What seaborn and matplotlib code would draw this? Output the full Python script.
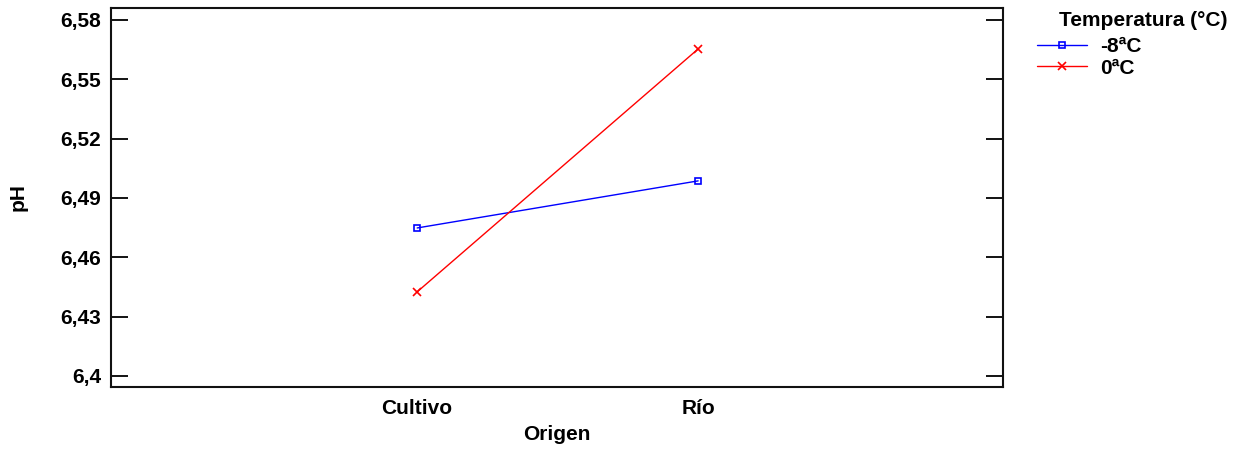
import matplotlib
matplotlib.use("Agg")
import matplotlib.pyplot as plt
from matplotlib.lines import Line2D
import pandas as pd
import seaborn as sns

# Mean pH by origin and storage temperature
origen = ["Cultivo", "Río"]
temperaturas = ["-8ªC", "0ªC"]
ph_menos8 = [6.4748, 6.4986]
ph_0 = [6.4425, 6.5653]

y_ticks = [6.40, 6.43, 6.46, 6.49, 6.52, 6.55, 6.58]
y_tick_labels = ["6,4", "6,43", "6,46", "6,49", "6,52", "6,55", "6,58"]

df = pd.DataFrame({
    "Origen": origen * 2,
    "Temperatura": [temperaturas[0]] * 2 + [temperaturas[1]] * 2,
    "pH": ph_menos8 + ph_0,
})

sns.set_theme(style="white")
plt.rcParams["font.family"] = ["Liberation Sans", "DejaVu Sans"]
plt.rcParams["font.weight"] = "bold"
plt.rcParams["text.color"] = "black"
plt.rcParams["axes.labelcolor"] = "black"

FS = 15

colores = {"-8ªC": "#0000ff", "0ªC": "#ff0000"}
marcadores = {"-8ªC": "s", "0ªC": "x"}
tamanos = {"-8ªC": 5, "0ªC": 6}

fig = plt.figure(figsize=(12.41, 4.49), dpi=100)
ax = fig.add_axes([0.0894, 0.1381, 0.7188, 0.8441])

handles = []
for temp in temperaturas:
    sub = df[df["Temperatura"] == temp]
    sns.lineplot(data=sub, x="Origen", y="pH", ax=ax, color=colores[temp],
                 linewidth=1.0, marker=marcadores[temp],
                 markersize=tamanos[temp], markerfacecolor="none",
                 markeredgecolor=colores[temp], markeredgewidth=1.2,
                 sort=False, legend=False)
    handles.append(Line2D([], [], color=colores[temp], linewidth=1.0,
                          marker=marcadores[temp], markersize=tamanos[temp],
                          markerfacecolor="none", markeredgecolor=colores[temp],
                          markeredgewidth=1.2, label=temp))

ax.set_xlim(-1.09, 2.085)
ax.set_ylim(6.3944, 6.586)
ax.set_yticks(y_ticks)
ax.set_yticklabels(y_tick_labels, fontsize=FS, fontweight="bold")
ax.set_xticks(range(len(origen)))
ax.set_xticklabels(origen, fontsize=FS, fontweight="bold")

ax.tick_params(axis="y", which="major", direction="in", length=12, width=1.3,
               left=True, right=True, pad=7, colors="black")
ax.tick_params(axis="x", length=0, pad=9, colors="black")

for s in ax.spines.values():
    s.set_visible(True)
    s.set_color("#111111")
    s.set_linewidth(1.5)

ax.set_xlabel("Origen", fontsize=FS, fontweight="bold")
ax.set_ylabel("pH", fontsize=FS, fontweight="bold")
ax.xaxis.set_label_coords(0.5, -0.100)
ax.yaxis.set_label_coords(-0.093, 0.5)

fig.text(0.9895, 0.955, "Temperatura (°C)", fontsize=FS, fontweight="bold",
         ha="right", va="center")
leg = fig.legend(handles=handles, loc="upper left",
                 bbox_to_anchor=(0.8356, 0.917), frameon=False,
                 prop={"size": FS, "weight": "bold"}, handlelength=2.4,
                 handletextpad=0.65, labelspacing=0.12, borderpad=0,
                 borderaxespad=0)

fig.savefig("out.png", dpi=100, facecolor="white")
